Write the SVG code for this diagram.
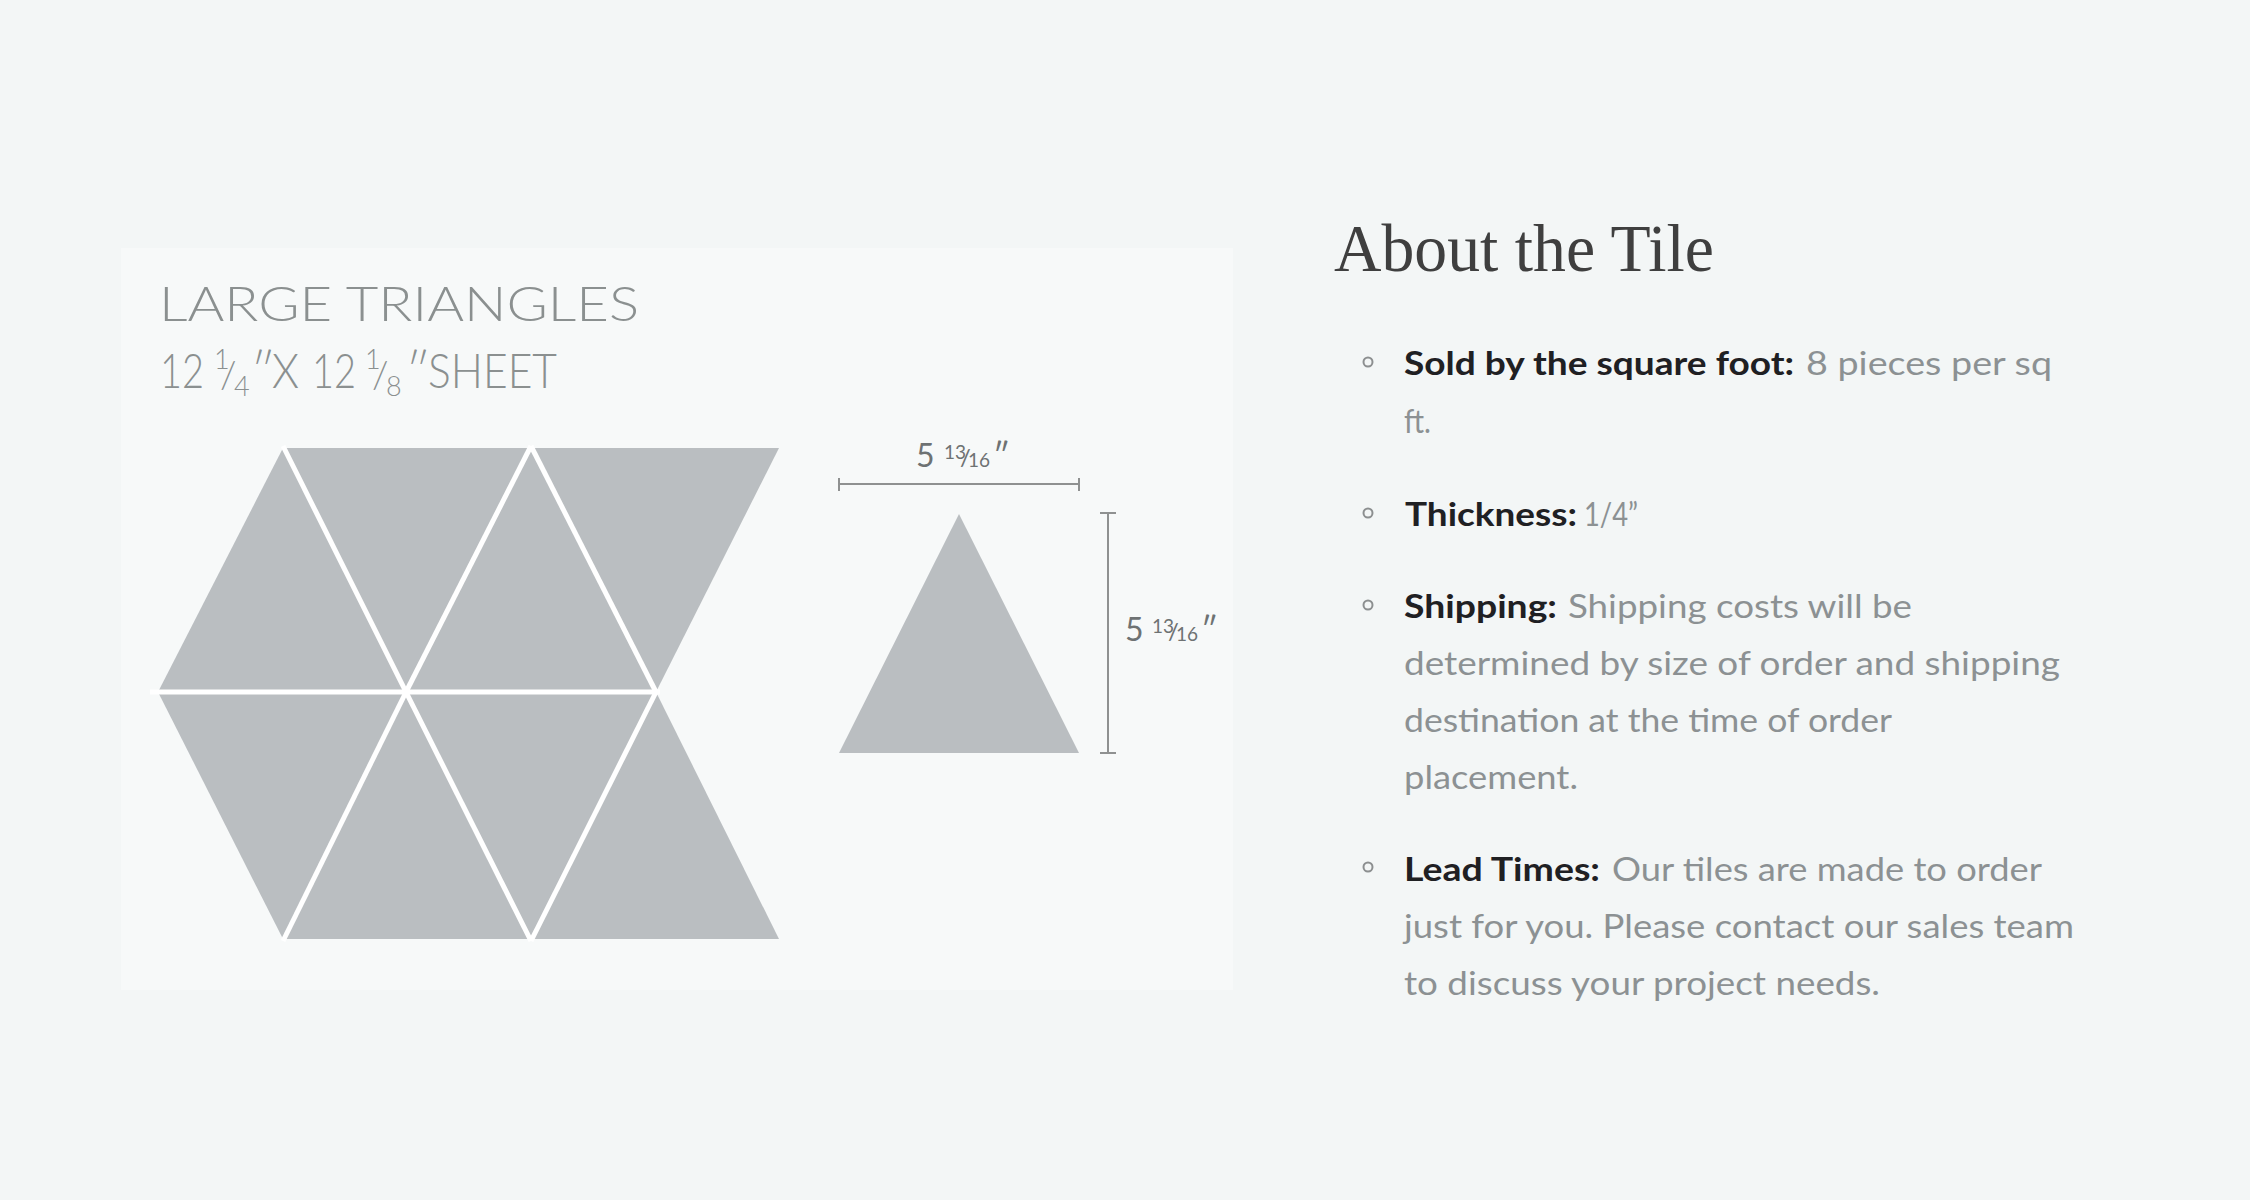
<svg xmlns="http://www.w3.org/2000/svg" width="2250" height="1200" viewBox="0 0 2250 1200">
  <defs>
    <style>
      .bg { fill: #f3f6f6; }
      .panel { fill: #f7f9f9; }
      .tile { fill: #babec1; }
      .gap { stroke: #ffffff; stroke-width: 5; stroke-linecap: butt; fill: none; }
      .dimline { stroke: #8f9191; stroke-width: 2; fill: none; }
      .head { font-family: Lato, "Noto Sans", "Liberation Sans", sans-serif; font-weight: 300; fill: #8b9090; font-size: 48px; }
      .hsup { font-size: 27px; }
      .hslash { font-size: 38px; }
      .dim { font-family: Lato, "Noto Sans", "Liberation Sans", sans-serif; font-weight: 400; fill: #6e7273; font-size: 32px; }
      .frac { font-size: 19px; }
      .dslash { font-size: 24px; }
      .title { font-family: "Liberation Serif", "DejaVu Serif", serif; font-weight: 400; fill: #3f3f3f; font-size: 68px; }
      .b { font-family: Lato, "Noto Sans", "Liberation Sans", sans-serif; font-weight: 700; fill: #1f2023; font-size: 33px; }
      .r { font-family: Lato, "Noto Sans", "Liberation Sans", sans-serif; font-weight: 400; fill: #8c9193; font-size: 33px; }
      .bullet { fill: none; stroke: #8c8f90; stroke-width: 2; }
    </style>
  </defs>

  <rect class="bg" x="0" y="0" width="2250" height="1200"/>
  <rect class="panel" x="121" y="248" width="1112" height="742"/>

  <g id="sheet-label">
    <text class="head" x="159" y="321" textLength="480" lengthAdjust="spacingAndGlyphs">LARGE TRIANGLES</text>
    <text class="head" x="160" y="388" textLength="44" lengthAdjust="spacingAndGlyphs">12</text>
    <text class="head" y="388"><tspan class="hsup" x="214" y="369">1</tspan><tspan class="hslash" x="220" y="388">/</tspan><tspan class="hsup" x="234" y="396">4</tspan><tspan x="251" y="388">″</tspan></text>
    <text class="head" x="272" y="388" textLength="27" lengthAdjust="spacingAndGlyphs">X</text>
    <text class="head" x="312" y="388" textLength="44" lengthAdjust="spacingAndGlyphs">12</text>
    <text class="head" y="388"><tspan class="hsup" x="365" y="369">1</tspan><tspan class="hslash" x="372" y="388">/</tspan><tspan class="hsup" x="386" y="396">8</tspan><tspan x="406" y="388">″</tspan></text>
    <text class="head" x="428" y="388" textLength="129" lengthAdjust="spacingAndGlyphs">SHEET</text>
  </g>

  <g id="sheet">
    <polygon class="tile" points="158,692 283,448 406,692"/>
    <polygon class="tile" points="283,448 531,448 406,692"/>
    <polygon class="tile" points="406,692 531,448 656,692"/>
    <polygon class="tile" points="531,448 779,448 656,692"/>
    <polygon class="tile" points="158,692 406,692 283,939"/>
    <polygon class="tile" points="283,939 406,692 531,939"/>
    <polygon class="tile" points="406,692 656,692 531,939"/>
    <polygon class="tile" points="531,939 656,692 779,939"/>
    <g id="grout">
      <line class="gap" x1="150" y1="692" x2="660" y2="692"/>
      <line class="gap" x1="283" y1="446" x2="406" y2="692"/>
      <line class="gap" x1="406" y1="692" x2="531" y2="446"/>
      <line class="gap" x1="531" y1="446" x2="656" y2="692"/>
      <line class="gap" x1="406" y1="692" x2="283" y2="941"/>
      <line class="gap" x1="406" y1="692" x2="531" y2="941"/>
      <line class="gap" x1="656" y1="692" x2="531" y2="941"/>
    </g>
  </g>

  <g id="single-tile">
    <polygon class="tile" points="959,514 839,753 1079,753"/>
  </g>

  <g id="connectors">
    <g id="width-dimension">
      <line class="dimline" x1="838" y1="484" x2="1080" y2="484"/>
      <line class="dimline" x1="839" y1="478" x2="839" y2="491"/>
      <line class="dimline" x1="1079" y1="478" x2="1079" y2="491"/>
    </g>
    <g id="height-dimension">
      <line class="dimline" x1="1108" y1="513" x2="1108" y2="753"/>
      <line class="dimline" x1="1100" y1="513" x2="1116" y2="513"/>
      <line class="dimline" x1="1100" y1="753" x2="1116" y2="753"/>
    </g>
  </g>

  <g id="width-label">
    <text class="dim" y="467"><tspan x="916">5</tspan><tspan class="frac" x="944" y="459">13</tspan><tspan class="dslash" x="960" y="466">/</tspan><tspan class="frac" x="968" y="467">16</tspan><tspan x="993" y="467">″</tspan></text>
  </g>
  <g id="height-label">
    <text class="dim" y="641"><tspan x="1125">5</tspan><tspan class="frac" x="1152" y="633">13</tspan><tspan class="dslash" x="1168" y="640">/</tspan><tspan class="frac" x="1176" y="641">16</tspan><tspan x="1201" y="641">″</tspan></text>
  </g>

  <g id="about">
    <text class="title" x="1334" y="271" textLength="380" lengthAdjust="spacingAndGlyphs">About the Tile</text>

    <g id="item-sold">
      <circle class="bullet" cx="1368" cy="362" r="4.5"/>
      <text class="b" x="1404" y="375" textLength="390" lengthAdjust="spacingAndGlyphs">Sold by the square foot:</text>
      <text class="r" x="1806" y="375" textLength="246" lengthAdjust="spacingAndGlyphs">8 pieces per sq</text>
      <text class="r" x="1404" y="433" textLength="27" lengthAdjust="spacingAndGlyphs">ft.</text>
    </g>

    <g id="item-thickness">
      <circle class="bullet" cx="1368" cy="513" r="4.5"/>
      <text class="b" x="1405" y="526" textLength="172" lengthAdjust="spacingAndGlyphs">Thickness:</text>
      <text class="r" x="1584" y="526" textLength="54" lengthAdjust="spacingAndGlyphs">1/4”</text>
    </g>

    <g id="item-shipping">
      <circle class="bullet" cx="1368" cy="605" r="4.5"/>
      <text class="b" x="1404" y="618" textLength="153" lengthAdjust="spacingAndGlyphs">Shipping:</text>
      <text class="r" x="1568" y="618" textLength="344" lengthAdjust="spacingAndGlyphs">Shipping costs will be</text>
      <text class="r" x="1404" y="675" textLength="656" lengthAdjust="spacingAndGlyphs">determined by size of order and shipping</text>
      <text class="r" x="1404" y="732" textLength="488" lengthAdjust="spacingAndGlyphs">destination at the time of order</text>
      <text class="r" x="1404" y="789" textLength="174" lengthAdjust="spacingAndGlyphs">placement.</text>
    </g>

    <g id="item-lead">
      <circle class="bullet" cx="1368" cy="867" r="4.5"/>
      <text class="b" x="1404" y="881" textLength="196" lengthAdjust="spacingAndGlyphs">Lead Times:</text>
      <text class="r" x="1612" y="881" textLength="430" lengthAdjust="spacingAndGlyphs">Our tiles are made to order</text>
      <text class="r" x="1404" y="938" textLength="670" lengthAdjust="spacingAndGlyphs">just for you. Please contact our sales team</text>
      <text class="r" x="1404" y="995" textLength="476" lengthAdjust="spacingAndGlyphs">to discuss your project needs.</text>
    </g>
  </g>
</svg>
